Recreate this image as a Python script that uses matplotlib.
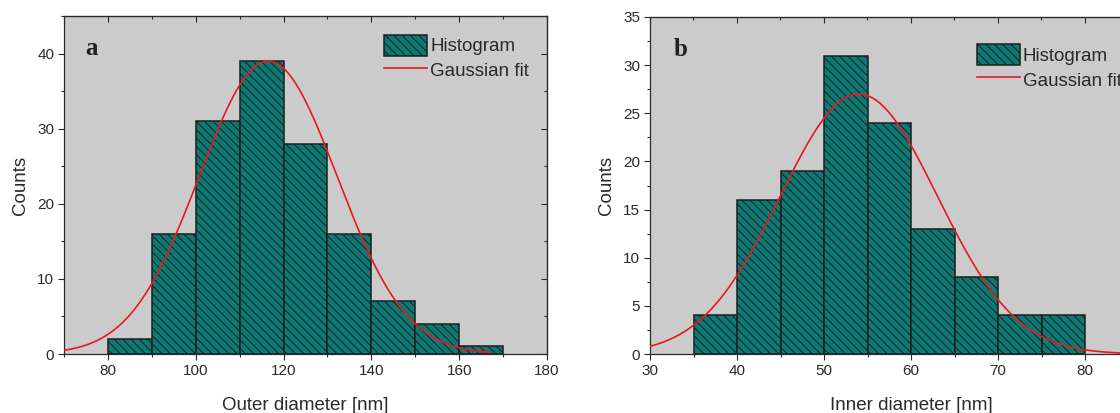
import numpy as np
import matplotlib.pyplot as plt
from matplotlib.ticker import MultipleLocator, FuncFormatter
from matplotlib.patches import Patch
from matplotlib.lines import Line2D

plt.rcParams['font.family'] = ['Liberation Sans', 'DejaVu Sans']
plt.rcParams['hatch.linewidth'] = 0.7

# Outer diameter histogram (bin edges in nm, counts per bin)
outer_edges = [80, 90, 100, 110, 120, 130, 140, 150, 160, 170]
outer_counts = [2, 16, 31, 39, 28, 16, 7, 4, 1]
# Gaussian fit parameters: amplitude, centre, sigma
outer_fit = (39.0, 116.5, 15.7)
outer_fit_range = (70, 167)

# Inner diameter histogram
inner_edges = [35, 40, 45, 50, 55, 60, 65, 70, 75, 80]
inner_counts = [4, 16, 19, 31, 24, 13, 8, 4, 4]
inner_fit = (27.0, 54.0, 9.05)
inner_fit_range = (30, 90)

BG = '#cbcbcb'
BAR = '#0b7a74'
EDGE = '#1e1e1e'
RED = '#e8191e'
TXT = '#2a2a2a'

fig = plt.figure(figsize=(11.2, 4.13), dpi=100)
ax_a = fig.add_axes([64 / 1120, 59 / 413, 483 / 1120, 338 / 413])
ax_b = fig.add_axes([650 / 1120, 59 / 413, 522 / 1120, 337 / 413])


def draw(ax, edges, counts, fit, fit_range, xlim, ylim, xmaj, xmin, ymaj, ymin,
         xlabel, letter, leg_anchor, xlabel_max):
    ax.set_facecolor(BG)
    edges = np.asarray(edges, dtype=float)
    ax.bar(edges[:-1], counts, width=np.diff(edges), align='edge',
           color=BAR, edgecolor=EDGE, linewidth=1.1, hatch='\\\\\\\\', zorder=2)
    amp, mu, sig = fit
    x = np.linspace(fit_range[0], fit_range[1], 400)
    ax.plot(x, amp * np.exp(-(x - mu) ** 2 / (2 * sig ** 2)), color=RED, lw=1.2, zorder=3)
    ax.set_xlim(*xlim)
    ax.set_ylim(*ylim)
    ax.xaxis.set_major_locator(MultipleLocator(xmaj))
    ax.xaxis.set_minor_locator(MultipleLocator(xmin))
    ax.xaxis.set_major_formatter(FuncFormatter(
        lambda v, p: f'{v:g}' if v <= xlabel_max else ''))
    ax.yaxis.set_major_locator(MultipleLocator(ymaj))
    ax.yaxis.set_minor_locator(MultipleLocator(ymin))
    ax.tick_params(which='both', direction='out', colors=TXT, labelsize=11,
                   top=False, right=False)
    ax.tick_params(which='major', length=4, width=0.8, pad=3)
    ax.tick_params(which='minor', length=2.5, width=0.8)
    for s in ax.spines.values():
        s.set_color(TXT)
        s.set_linewidth(0.9)
    # mirrored inward ticks on top and right
    sec_x = ax.secondary_xaxis('top')
    sec_x.xaxis.set_major_locator(MultipleLocator(xmaj))
    sec_x.xaxis.set_minor_locator(MultipleLocator(xmin))
    sec_x.tick_params(which='both', direction='in', labeltop=False, colors=TXT)
    sec_x.tick_params(which='major', length=4, width=0.8)
    sec_x.tick_params(which='minor', length=2.5, width=0.8)
    sec_y = ax.secondary_yaxis('right')
    sec_y.yaxis.set_major_locator(MultipleLocator(ymaj))
    sec_y.yaxis.set_minor_locator(MultipleLocator(ymin))
    sec_y.tick_params(which='both', direction='in', labelright=False, colors=TXT)
    sec_y.tick_params(which='major', length=4, width=0.8)
    sec_y.tick_params(which='minor', length=2.5, width=0.8)
    ax.set_xlabel(xlabel, fontsize=13.5, color=TXT, labelpad=14)
    ax.set_ylabel('Counts', fontsize=13.5, color=TXT, labelpad=6)
    ax.text(0.045, 0.905, letter, transform=ax.transAxes, fontsize=18,
            fontweight='bold', family='Liberation Serif', color='#222222',
            va='center', ha='left')
    handles = [Patch(facecolor=BAR, edgecolor=EDGE, hatch='\\\\\\\\', linewidth=1.1),
               Line2D([], [], color=RED, lw=1.2)]
    ax.legend(handles, ['Histogram', 'Gaussian fit'], loc='upper left',
              bbox_to_anchor=leg_anchor, frameon=False, fontsize=13.5,
              handlelength=2.3, handleheight=1.35, handletextpad=0.15,
              labelspacing=0.2, borderpad=0, borderaxespad=0, labelcolor=TXT)


draw(ax_a, outer_edges, outer_counts, outer_fit, outer_fit_range,
     (70, 180), (0, 45), 20, 10, 10, 5, 'Outer diameter [nm]', 'a',
     (0.663, 0.945), 180)
draw(ax_b, inner_edges, inner_counts, inner_fit, inner_fit_range,
     (30, 90), (0, 35), 10, 5, 5, 2.5, 'Inner diameter [nm]', 'b',
     (0.626, 0.92), 85)

fig.savefig('out.png', dpi=100)
